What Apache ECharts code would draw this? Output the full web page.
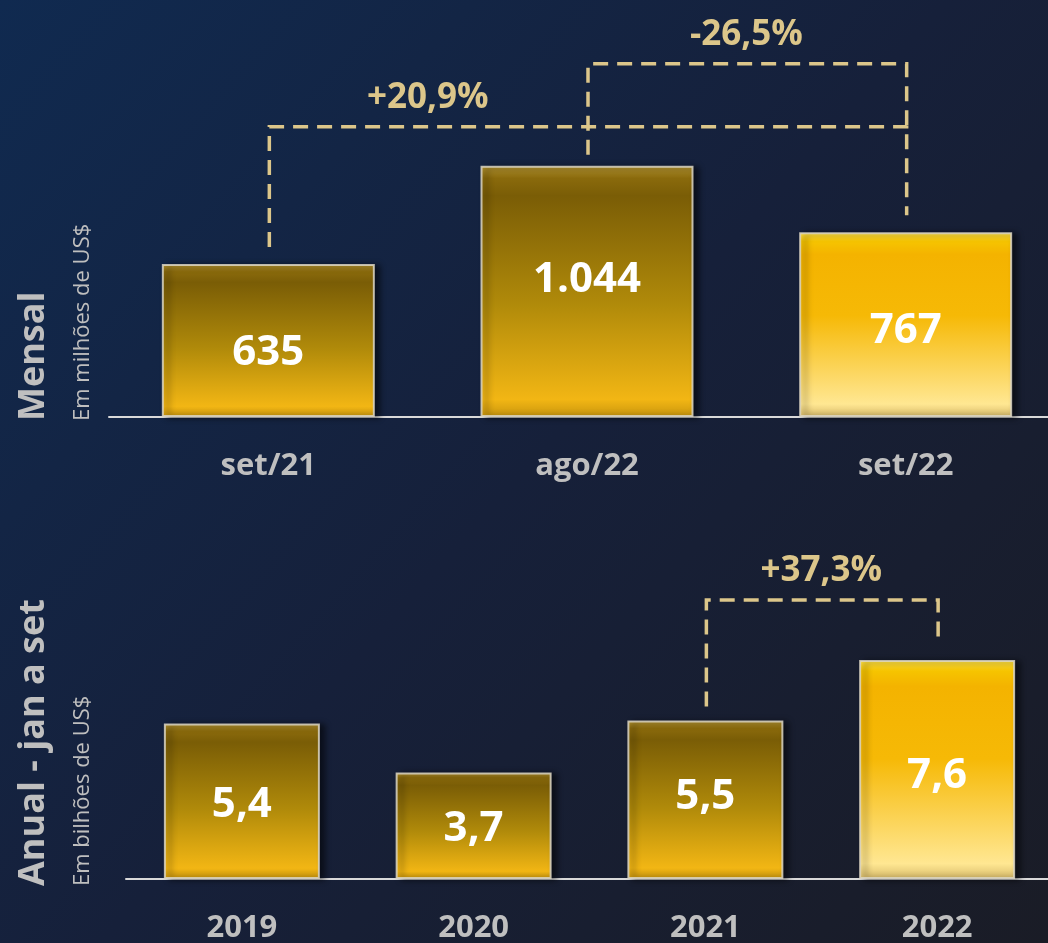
<!DOCTYPE html>
<html>
<head>
<meta charset="utf-8">
<script src="https://cdn.jsdelivr.net/npm/echarts@6/dist/echarts.min.js"></script>
<style>
html,body{margin:0;padding:0;background:#151f36;}
#c{width:1048px;height:943px;}
</style>
</head>
<body>
<div id="c"></div>
<script>
// ---- data ----
const topCategories = ['set/21', 'ago/22', 'set/22'];
const topValues = [635, 1044, 767];
const bottomCategories = ['2019', '2020', '2021', '2022'];
const bottomValues = [5.4, 3.7, 5.5, 7.6];
// comparison annotations: [fromIndex, toIndex, text]
const topChanges = [[0, 2, '+20,9%'], [1, 2, '-26,5%']];
const bottomChanges = [[2, 3, '+37,3%']];
const topTitle = 'Mensal';
const topUnit = 'Em milhões de US$';
const bottomTitle = 'Anual - jan a set';
const bottomUnit = 'Em bilhões de US$';

// ---- styles ----
const FONT = '"Open Sans", "Noto Sans", sans-serif';
const GRAY = '#bfbfbf';
const TAN = '#dcc68a';
const topLabelShift = [12, -11, 6];
const bottomLabelShift = [4, 3, -3, 6];
const darkGrad = {type:'linear',x:0,y:0,x2:0,y2:1,colorStops:[
  {offset:0,color:'#b39433'},{offset:0.05,color:'#8a6a0c'},{offset:0.12,color:'#7a5d06'},
  {offset:0.55,color:'#b08a0a'},{offset:0.93,color:'#f2b614'},{offset:1,color:'#c9960e'}]};
const lightGrad = {type:'linear',x:0,y:0,x2:0,y2:1,colorStops:[
  {offset:0,color:'#ffe24a'},{offset:0.05,color:'#f6c400'},{offset:0.12,color:'#f4b300'},
  {offset:0.45,color:'#f6b906'},{offset:0.93,color:'#ffe792'},{offset:1,color:'#d8bb6a'}]};

function fmtTop(v){ return String(v).replace(/\B(?=(\d{3})+(?!\d))/g,'.'); }
function fmtBottom(v){ return v.toFixed(1).replace('.',','); }

function barItems(values, shifts){
  return values.map((v,i)=>({
    value:v,
    itemStyle:{color: i===values.length-1 ? lightGrad : darkGrad},
    label:{offset:[0, shifts[i]]}
  }));
}

const barStyle = {
  borderColor:'rgba(220,214,196,0.85)', borderWidth:2,
  shadowColor:'rgba(0,0,0,0.55)', shadowBlur:6, shadowOffsetX:5, shadowOffsetY:1
};
const valueLabel = (fmt)=>({
  show:true, position:'inside', color:'#ffffff', fontFamily:FONT, fontWeight:'bold',
  fontSize:42, formatter:p=>fmt(p.value)
});
const catLabel = {color:GRAY,fontFamily:FONT,fontWeight:'bold',fontSize:31,margin:34};

const chart = echarts.init(document.getElementById('c'), null, {renderer:'canvas'});
const option = {
  backgroundColor:{type:'linear',x:0,y:0,x2:1,y2:1,colorStops:[
    {offset:0,color:'#102a50'},{offset:0.5,color:'#16203a'},{offset:1,color:'#1a1c26'}]},
  animation:false,
  grid:[
    {left:109, width:956, top:104, bottom:526, outerBoundsMode:'none', containLabel:false},
    {left:126, width:927, top:591, bottom:64, outerBoundsMode:'none', containLabel:false}
  ],
  xAxis:[
    {gridIndex:0, type:'category', data:topCategories,
     axisLine:{lineStyle:{color:'#d9d9d9',width:2}}, axisTick:{show:false}, axisLabel:catLabel},
    {gridIndex:1, type:'category', data:bottomCategories,
     axisLine:{lineStyle:{color:'#d9d9d9',width:2}}, axisTick:{show:false}, axisLabel:catLabel}
  ],
  yAxis:[
    {gridIndex:0, type:'value', min:0, max:1300, show:false, splitLine:{show:false}},
    {gridIndex:1, type:'value', min:0, max:10, show:false, splitLine:{show:false}}
  ],
  series:[
    {type:'bar', xAxisIndex:0, yAxisIndex:0, data:barItems(topValues, topLabelShift), barWidth:213,
     itemStyle:barStyle, label:valueLabel(fmtTop), z:3},
    {type:'bar', xAxisIndex:1, yAxisIndex:1, data:barItems(bottomValues, bottomLabelShift), barWidth:156,
     itemStyle:barStyle, label:valueLabel(fmtBottom), z:3}
  ]
};
chart.setOption(option);

// ---- annotations (brackets) built from the chart's own scales ----
function brackets(seriesIndex, values, changes, levels, gaps, labelSpans){
  const els = [];
  changes.forEach((c,k)=>{
    const [a,b,text] = c;
    const pa = chart.convertToPixel({seriesIndex}, [a, values[a]]);
    const pb = chart.convertToPixel({seriesIndex}, [b, values[b]]);
    const yTop = chart.convertToPixel({seriesIndex}, [a, levels[k]])[1];
    const g = gaps[k];
    const lineStyle = {stroke:TAN, lineWidth:3.5, lineDash:[15,9], fill:null};
    els.push({type:'polyline', shape:{points:[[pa[0]+1, pa[1]-g[0]],[pa[0]+1, yTop],[pb[0]+1, yTop],[pb[0]+1, pb[1]-g[1]]]},
      style:lineStyle, z:10});
    const s = labelSpans[k];
    const x1 = chart.convertToPixel({seriesIndex}, [s[0], values[s[0]]])[0];
    const x2 = chart.convertToPixel({seriesIndex}, [s[1], values[s[1]]])[0];
    els.push({type:'text', x:(x1+x2)/2, y:yTop-29, z:11,
      style:{text, fill:TAN, font:'bold 35px ' + FONT, align:'center', verticalAlign:'middle'}});
  });
  return els;
}
const graphics = [].concat(
  brackets(0, topValues, topChanges, [1205, 1467], [[17,112],[11,17]], [[0,1],[1,2]]),
  brackets(1, bottomValues, bottomChanges, [9.69], [[14,16]], [[2,3]]),
  [
    {type:'text', x:34, y:421, rotation:Math.PI/2, style:{text:topTitle, fill:GRAY, font:'bold 36px '+FONT, align:'left', verticalAlign:'middle'}},
    {type:'text', x:83, y:421, rotation:Math.PI/2, style:{text:topUnit, fill:GRAY, font:'22px '+FONT, align:'left', verticalAlign:'middle'}},
    {type:'text', x:34, y:886, rotation:Math.PI/2, style:{text:bottomTitle, fill:GRAY, font:'bold 36px '+FONT, align:'left', verticalAlign:'middle'}},
    {type:'text', x:83, y:886, rotation:Math.PI/2, style:{text:bottomUnit, fill:GRAY, font:'22px '+FONT, align:'left', verticalAlign:'middle'}}
  ]
);
chart.setOption({graphic:graphics});
</script>
</body>
</html>
